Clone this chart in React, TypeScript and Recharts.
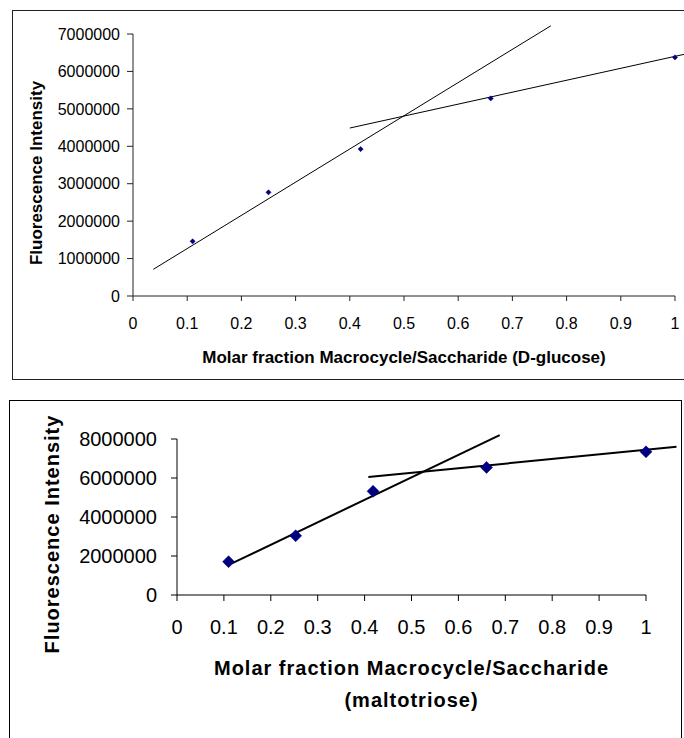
import { ReferenceLine, Scatter, ScatterChart, XAxis, YAxis } from "recharts";

// shared x ticks (molar fraction)
const xTicks = [0, 0.1, 0.2, 0.3, 0.4, 0.5, 0.6, 0.7, 0.8, 0.9, 1];

// D-glucose
const glucoseX = [0.11, 0.25, 0.42, 0.66, 1];
const glucoseY = [1460000, 2770000, 3925000, 5280000, 6375000];
const glucoseYTicks = [0, 1000000, 2000000, 3000000, 4000000, 5000000, 6000000, 7000000];
const glucoseFitAX = [0.0375, 0.771];
const glucoseFitAY = [713000, 7220000];
const glucoseFitBX = [0.4, 1.017];
const glucoseFitBY = [4488000, 6457000];

// maltotriose
const maltoX = [0.11, 0.253, 0.418, 0.66, 1];
const maltoY = [1710000, 3040000, 5320000, 6540000, 7340000];
const maltoYTicks = [0, 2000000, 4000000, 6000000, 8000000];
const maltoFitAX = [0.117, 0.688];
const maltoFitAY = [1620000, 8200000];
const maltoFitBX = [0.408, 1.065];
const maltoFitBY = [6050000, 7600000];

const FONT = '"Liberation Sans", Arial, sans-serif';
const NAVY = "#000080";

const toPoints = (xs: number[], ys: number[]) => xs.map((x, i) => ({ x, y: ys[i] }));

function diamond(half: number) {
  return (props: any) => {
    const { cx, cy } = props;
    return (
      <polygon
        points={`${cx},${cy - half} ${cx + half},${cy} ${cx},${cy + half} ${cx - half},${cy}`}
        fill={NAVY}
        stroke={NAVY}
        strokeWidth={0.5}
      />
    );
  };
}

function YTitle({ viewBox, cx, cy, size, spacing }: any) {
  const x = viewBox.x + cx;
  const y = cy;
  return (
    <text
      x={x}
      y={y}
      transform={`rotate(-90, ${x}, ${y})`}
      textAnchor="middle"
      dominantBaseline="central"
      fontFamily={FONT}
      fontWeight="bold"
      fontSize={size}
      letterSpacing={spacing}
      fill="#000"
    >
      Fluorescence Intensity
    </text>
  );
}

function XTitle({ viewBox, lines, dys, size, spacing }: any) {
  const x = viewBox.x + viewBox.width / 2;
  return (
    <g>
      {lines.map((t: string, i: number) => (
        <text
          key={t}
          x={x}
          y={viewBox.y + dys[i]}
          textAnchor="middle"
          dominantBaseline="central"
          fontFamily={FONT}
          fontWeight="bold"
          fontSize={size}
          letterSpacing={spacing}
          fill="#000"
        >
          {t}
        </text>
      ))}
    </g>
  );
}

function seg(xs: number[], ys: number[]) {
  return [
    { x: xs[0], y: ys[0] },
    { x: xs[1], y: ys[1] },
  ];
}

function GlucoseChart() {
  const tick = { fill: "#000", fontSize: 16, fontFamily: FONT };
  return (
    <ScatterChart width={684} height={380} margin={{ top: 34, right: 9, bottom: 0, left: 0 }}>
      <XAxis
        type="number"
        dataKey="x"
        domain={[0, 1]}
        ticks={xTicks}
        interval={0}
        height={84}
        tick={tick}
        tickSize={5}
        tickMargin={17}
        stroke="#222"
        label={<XTitle lines={["Molar fraction Macrocycle/Saccharide (D-glucose)"]} dys={[61]} size={17} spacing={0} />}
      />
      <YAxis
        type="number"
        dataKey="y"
        domain={[0, 7000000]}
        ticks={glucoseYTicks}
        interval={0}
        width={133}
        tick={tick}
        tickSize={6}
        tickMargin={7}
        stroke="#222"
        label={<YTitle cx={36} cy={173} size={17} spacing={0} />}
      />
      <ReferenceLine segment={seg(glucoseFitAX, glucoseFitAY)} stroke="#000" strokeWidth={1} ifOverflow="visible" />
      <ReferenceLine segment={seg(glucoseFitBX, glucoseFitBY)} stroke="#000" strokeWidth={1} ifOverflow="visible" />
      <Scatter data={toPoints(glucoseX, glucoseY)} shape={diamond(2.6)} isAnimationActive={false} />
    </ScatterChart>
  );
}

function MaltoChart() {
  const tick = { fill: "#000", fontSize: 20, fontFamily: FONT };
  return (
    <ScatterChart width={684} height={338} margin={{ top: 39, right: 38, bottom: 0, left: 0 }}>
      <XAxis
        type="number"
        dataKey="x"
        domain={[0, 1]}
        ticks={xTicks}
        interval={0}
        height={143}
        tick={tick}
        tickSize={6}
        tickMargin={19}
        stroke="#000"
        label={
          <XTitle
            lines={["Molar fraction Macrocycle/Saccharide", "(maltotriose)"]}
            dys={[73, 105]}
            size={20}
            spacing={1}
          />
        }
      />
      <YAxis
        type="number"
        dataKey="y"
        domain={[0, 8000000]}
        ticks={maltoYTicks}
        interval={0}
        width={177}
        tick={tick}
        tickSize={6}
        tickMargin={14}
        stroke="#000"
        label={<YTitle cx={52} cy={134} size={20} spacing={1} />}
      />
      <ReferenceLine segment={seg(maltoFitAX, maltoFitAY)} stroke="#000" strokeWidth={2} ifOverflow="visible" />
      <ReferenceLine segment={seg(maltoFitBX, maltoFitBY)} stroke="#000" strokeWidth={2} ifOverflow="visible" />
      <Scatter data={toPoints(maltoX, maltoY)} shape={diamond(6)} isAnimationActive={false} />
    </ScatterChart>
  );
}

export default function App() {
  return (
    <div
      style={{
        position: "absolute",
        left: 0,
        top: 0,
        width: 684,
        height: 738,
        overflow: "hidden",
        background: "#fff",
        fontFamily: FONT,
      }}
    >
      <div
        style={{
          position: "absolute",
          left: 12,
          top: 10,
          width: 720,
          height: 368,
          border: "1.5px solid #222",
        }}
      />
      <div
        style={{
          position: "absolute",
          left: 9,
          top: 400,
          width: 671,
          height: 400,
          border: "1.5px solid #000",
        }}
      />
      <div style={{ position: "absolute", left: 0, top: 0 }}>
        <GlucoseChart />
      </div>
      <div style={{ position: "absolute", left: 0, top: 400 }}>
        <MaltoChart />
      </div>
    </div>
  );
}
